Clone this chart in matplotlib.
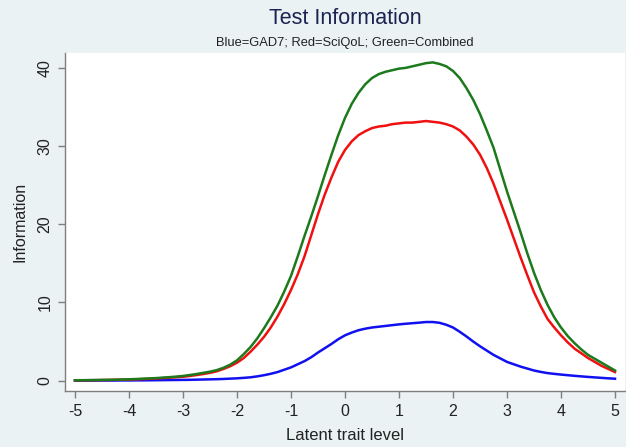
import matplotlib
matplotlib.use("Agg")
import matplotlib.pyplot as plt
import numpy as np

# latent trait grid (step 0.125) and information values
theta = np.linspace(-5, 5, 81)

info_gad7 = [0.0, 0.0, 0.01, 0.01, 0.02, 0.02, 0.02, 0.03, 0.03, 0.04,
             0.04, 0.05, 0.06, 0.07, 0.08, 0.09, 0.10, 0.11, 0.13, 0.15,
             0.17, 0.19, 0.22, 0.26, 0.30, 0.36, 0.43, 0.55, 0.70, 0.88,
             1.1, 1.4, 1.7, 2.1, 2.5, 3.0, 3.6, 4.15, 4.7, 5.3,
             5.8, 6.15, 6.45, 6.65, 6.8, 6.9, 7.0, 7.1, 7.2, 7.28,
             7.35, 7.42, 7.5, 7.5, 7.4, 7.15, 6.8, 6.25, 5.65, 5.0,
             4.4, 3.85, 3.3, 2.85, 2.4, 2.1, 1.8, 1.55, 1.3, 1.12,
             0.97, 0.87, 0.78, 0.7, 0.62, 0.55, 0.48, 0.42, 0.36, 0.3, 0.25]

info_sciqol = [0.04, 0.05, 0.06, 0.07, 0.08, 0.09, 0.11, 0.13, 0.15, 0.17,
               0.20, 0.24, 0.28, 0.33, 0.38, 0.44, 0.50, 0.60, 0.72, 0.85,
               1.0, 1.2, 1.5, 1.85, 2.3, 2.9, 3.7, 4.6, 5.6, 6.8,
               8.2, 9.8, 11.6, 13.6, 15.9, 18.6, 21.3, 23.8, 26.0, 28.0,
               29.5, 30.6, 31.4, 31.9, 32.3, 32.5, 32.6, 32.8, 32.9, 33.0,
               33.0, 33.1, 33.2, 33.1, 33.0, 32.8, 32.5, 32.0, 31.2, 30.2,
               28.9, 27.2, 25.2, 22.9, 20.6, 18.2, 15.8, 13.5, 11.3, 9.5,
               7.9, 6.8, 5.8, 4.9, 4.1, 3.5, 2.9, 2.4, 1.9, 1.5, 1.1]

info_combined = [0.05, 0.06, 0.07, 0.08, 0.10, 0.11, 0.13, 0.15, 0.18, 0.21,
                 0.25, 0.29, 0.33, 0.39, 0.45, 0.52, 0.60, 0.72, 0.85, 1.0,
                 1.15, 1.35, 1.65, 2.05, 2.6, 3.4, 4.3, 5.4, 6.7, 8.1,
                 9.6, 11.4, 13.4, 15.9, 18.5, 21.0, 23.6, 26.3, 28.9, 31.4,
                 33.6, 35.4, 36.8, 37.9, 38.7, 39.2, 39.5, 39.7, 39.9, 40.0,
                 40.2, 40.4, 40.6, 40.7, 40.5, 40.2, 39.6, 38.7, 37.4, 35.9,
                 34.1, 32.0, 29.8, 27.0, 24.2, 21.6, 19.0, 16.3, 13.8, 11.6,
                 9.7, 8.1, 6.8, 5.7, 4.8, 4.0, 3.3, 2.8, 2.3, 1.8, 1.3]

xticks = list(range(-5, 6))
yticks = [0, 10, 20, 30, 40]

plt.rcParams['font.family'] = ['Liberation Sans', 'DejaVu Sans']

bg = '#EAF2F3'
axcol = '#7F7F7F'
txtcol = '#222222'

fig = plt.figure(figsize=(6.26, 4.47), dpi=100, facecolor=bg)
ax = fig.add_axes([65/626, 1 - 391/447, 560/626, (391 - 53)/447])
ax.set_facecolor('white')

ax.plot(theta, info_gad7, color='#1010F0', lw=1.8, solid_joinstyle='round')
ax.plot(theta, info_sciqol, color='#F01010', lw=1.8, solid_joinstyle='round')
ax.plot(theta, info_combined, color='#1C7A1C', lw=1.8, solid_joinstyle='round')

ax.set_xlim(-5.185, 5.185)
ax.set_ylim(-1.32, 41.9)
ax.set_xticks(xticks)
ax.set_xticklabels([str(t) for t in xticks])
ax.set_yticks(yticks)
ax.set_yticklabels([str(t) for t in yticks], rotation=90, va='center')

for side in ['top', 'right']:
    ax.spines[side].set_visible(False)
for side in ['left', 'bottom']:
    ax.spines[side].set_color(axcol)
    ax.spines[side].set_linewidth(1.0)
ax.tick_params(colors=axcol, length=5, width=1.0, labelcolor=txtcol, labelsize=11.5, pad=4)

ax.set_xlabel('Latent trait level', fontsize=12, color=txtcol, labelpad=7)
ax.set_ylabel('Information', fontsize=11.5, color=txtcol, labelpad=7)

fig.text(345/626, 1 - 18/447, 'Test Information', ha='center', va='center',
         fontsize=15.5, color='#1C2352')
fig.text(345/626, 1 - 43/447, 'Blue=GAD7; Red=SciQoL; Green=Combined', ha='center', va='center',
         fontsize=9.3, color=txtcol)

fig.savefig('out.png', dpi=100, facecolor=bg)
